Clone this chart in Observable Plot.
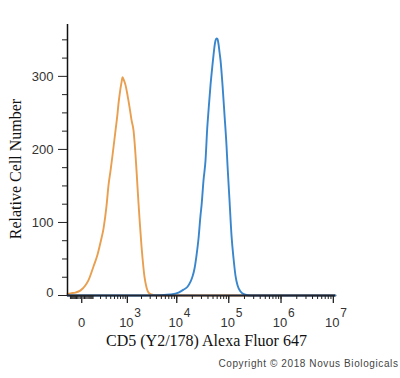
<!DOCTYPE html>
<html>
<head>
<meta charset="utf-8">
<script src="https://cdn.jsdelivr.net/npm/d3@7"></script>
<script src="https://cdn.jsdelivr.net/npm/@observablehq/plot@0.6"></script>
<style>
  html, body { margin: 0; padding: 0; background: #fff; }
  .copyright text, text.copyright { letter-spacing: 0.6px; }
</style>
</head>
<body>
<div id="chart"></div>
<script>
// ---- data ----
const orangeX = [-135, -99, -49, -8, 28, 54, 106, 156, 200, 250, 307, 349, 396, 446, 531, 594, 628, 663, 739, 779, 821, 911, 1009, 1116, 1233, 1360, 1500, 1574, 1652, 1733, 1818, 1907, 2000, 2097, 2198, 2304, 2530, 2777, 3191, 4015, 11000000];
const orangeY = [2, 3, 4, 7, 14, 21, 40, 56, 73, 92, 123, 151, 171, 192, 226, 249, 263, 274, 292, 299, 296, 288, 274, 258, 240, 226, 192, 171, 148, 126, 105, 86, 67, 51, 37, 25, 11, 4, 1.4, 0, 0];

const blueX = [-135, 2000, 4970, 7565, 10830, 13540, 16160, 18470, 20180, 22060, 24100, 26330, 28770, 30070, 32860, 35880, 38690, 40950, 44730, 48860, 51070, 53380, 55800, 58330, 60960, 63710, 66590, 69600, 76010, 83020, 90660, 94750, 103480, 113000, 123410, 134770, 147190, 168000, 200400, 261000, 11000000];
const blueY = [0, 0, 0.5, 1.4, 4, 8, 12, 19, 26, 37, 55, 78, 110, 123, 158, 185, 229, 253, 288, 316, 329, 341, 349, 352, 351, 344, 333, 322, 288, 247, 205, 178, 130, 82, 51, 27, 14, 5.5, 1.4, 0, 0];

const yZeroTick = [0];
const yZeroLabel = ["0"];
const yMajorTicks = [100, 200, 300];
const yMinorTicks = [25, 50, 75, 125, 150, 175, 225, 250, 275, 325, 350];
const xDecades = [1e3, 1e4, 1e5, 1e6, 1e7];
const xExponents = ["3", "4", "5", "6", "7"];
const xZeroLabel = ["0"];
const xTitle = ["CD5 (Y2/178) Alexa Fluor 647"];
const yTitle = ["Relative Cell Number"];
const copyright = ["Copyright \u00A9 2018 Novus Biologicals"];

// ---- build tables ----
const orange = orangeX.map((x, i) => ({x, y: orangeY[i]}));
const blue = blueX.map((x, i) => ({x, y: blueY[i]}));

const xMinor = [];
for (let n = 1; n <= 6; n++) {
  for (let k = 1; k <= 9; k++) {
    const v = k * Math.pow(10, n);
    if (v <= 1.1e7) xMinor.push(v);
    if (-v >= -135) xMinor.push(-v);
  }
}
const xMajor = [0, ...xDecades];

const sans = "'Liberation Sans', Arial, sans-serif";
const serif = "'Liberation Serif', 'Times New Roman', serif";

const chart = Plot.plot({
  width: 400,
  height: 378,
  marginLeft: 67,
  marginRight: 65,
  marginTop: 24,
  marginBottom: 83,
  style: {fontFamily: sans, fontSize: "13px", background: "#fff", color: "#222"},
  x: {type: "symlog", constant: 155, domain: [-135, 1.1e7]},
  y: {domain: [0, 371]},
  marks: [
    Plot.line(orange, {x: "x", y: "y", stroke: "#e99f50", strokeWidth: 1.9, curve: "monotone-x"}),
    Plot.line(blue, {x: "x", y: "y", stroke: "#3a86cc", strokeWidth: 1.9, curve: "monotone-x"}),
    Plot.ruleX([-135], {y1: 0, y2: 371, stroke: "#111", strokeWidth: 1.5}),
    Plot.ruleY([0], {stroke: "#1e2333", strokeWidth: 2}),
    Plot.axisY(yMinorTicks, {tickSize: 5, tickFormat: () => "", label: null, stroke: "#222"}),
    Plot.axisY(yMajorTicks, {tickSize: 9, tickPadding: 5, label: null, fontSize: 13, fill: "#333", stroke: "#222"}),
    Plot.axisY(yZeroTick, {tickSize: 9, tickFormat: () => "", label: null, stroke: "#222"}),
    Plot.text(yZeroLabel, {y: () => 0, text: d => d, frameAnchor: "left", dx: -14, dy: -3, textAnchor: "end", fontSize: 13, fill: "#333"}),
    Plot.axisX(xMinor, {tickSize: 4, tickFormat: () => "", label: null, stroke: "#222"}),
    Plot.axisX(xMajor, {tickSize: 8, tickFormat: () => "", label: null, stroke: "#222", strokeWidth: 1.3}),
    Plot.text(xZeroLabel, {x: () => 0, text: d => d, frameAnchor: "bottom", dy: 31, fontSize: 13, fill: "#333"}),
    Plot.text(xDecades, {x: d => d, text: () => "10", frameAnchor: "bottom", dy: 31, dx: -1, fontSize: 13, fill: "#333"}),
    Plot.text(xDecades, {x: d => d, text: (d, i) => xExponents[i], frameAnchor: "bottom", dy: 21, dx: 7, textAnchor: "start", fontSize: 12, fill: "#333"}),
    Plot.text(xTitle, {text: d => d, frameAnchor: "bottom", dy: 50, dx: 5, textAnchor: "middle", fontFamily: serif, fontSize: 16, fill: "#111"}),
    Plot.text(yTitle, {text: d => d, frameAnchor: "left", dx: -52, dy: 9, rotate: -90, textAnchor: "middle", fontFamily: serif, fontSize: 16, fill: "#111"}),
    Plot.text(copyright, {text: d => d, frameAnchor: "bottom-right", dx: 63, dy: 71, textAnchor: "end", fontSize: 10, fill: "#444", className: "copyright"})
  ]
});
document.getElementById("chart").appendChild(chart);
</script>
</body>
</html>
